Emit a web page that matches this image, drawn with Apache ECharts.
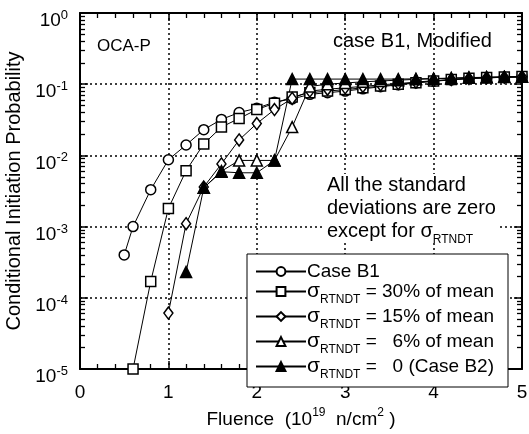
<!DOCTYPE html>
<html>
<head>
<meta charset="utf-8">
<script src="https://cdn.jsdelivr.net/npm/echarts@6/dist/echarts.min.js"></script>
<style>
html, body { margin: 0; padding: 0; background: #fff; }
#chart { width: 529px; height: 434px; }
</style>
</head>
<body>
<div id="chart"></div>
<script>
var FONT = '"Liberation Sans", Arial, sans-serif'

// fluence values (10^19 n/cm2) and probabilities
var xCaseB1 = [0.5, 0.6, 0.8, 1.0, 1.2, 1.4, 1.6, 1.8, 2.0, 2.2, 2.4, 2.6, 2.8, 3.0, 3.2, 3.4, 3.6, 3.8, 4.0, 4.2, 4.4, 4.6, 4.8, 5.0]
var caseB1 = [4.0e-4, 1.0e-3, 3.3e-3, 8.7e-3, 1.4e-2, 2.3e-2, 3.2e-2, 4.0e-2, 4.6e-2, 5.6e-2, 6.2e-2, 7.2e-2, 7.6e-2, 8.0e-2, 8.6e-2, 9.2e-2, 9.8e-2, 0.104, 0.110, 0.115, 0.120, 0.123, 0.125, 0.127]

var x30 = [0.6, 0.8, 1.0, 1.2, 1.4, 1.6, 1.8, 2.0, 2.2, 2.4, 2.6, 2.8, 3.0, 3.2, 3.4, 3.6, 3.8, 4.0, 4.2, 4.4, 4.6, 4.8, 5.0]
var sd30 = [1.0e-5, 1.7e-4, 1.8e-3, 6.1e-3, 1.45e-2, 2.5e-2, 3.3e-2, 4.4e-2, 5.4e-2, 6.6e-2, 7.6e-2, 8.0e-2, 8.4e-2, 8.9e-2, 9.4e-2, 0.100, 0.105, 0.111, 0.116, 0.121, 0.124, 0.126, 0.128]

var x15 = [1.0, 1.2, 1.4, 1.6, 1.8, 2.0, 2.2, 2.4, 2.6, 2.8, 3.0, 3.2, 3.4, 3.6, 3.8, 4.0, 4.2, 4.4, 4.6, 4.8, 5.0]
var sd15 = [6.1e-5, 1.1e-3, 3.6e-3, 7.6e-3, 1.65e-2, 2.8e-2, 4.4e-2, 6.3e-2, 8.0e-2, 8.5e-2, 8.9e-2, 9.3e-2, 9.8e-2, 0.102, 0.107, 0.112, 0.116, 0.120, 0.123, 0.125, 0.127]

var x6 = [1.4, 1.6, 1.8, 2.0, 2.2, 2.4, 2.6, 2.8, 3.0, 3.2, 3.4, 3.6, 3.8, 4.0, 4.2, 4.4, 4.6, 4.8, 5.0]
var sd6 = [3.5e-3, 6.0e-3, 8.5e-3, 8.5e-3, 8.5e-3, 2.5e-2, 9.3e-2, 0.100, 0.104, 0.108, 0.111, 0.114, 0.117, 0.119, 0.121, 0.123, 0.125, 0.126, 0.127]

var x0 = [1.2, 1.4, 1.6, 1.8, 2.0, 2.2, 2.4, 2.6, 2.8, 3.0, 3.2, 3.4, 3.6, 3.8, 4.0, 4.2, 4.4, 4.6, 4.8, 5.0]
var sd0 = [2.3e-4, 3.5e-3, 5.9e-3, 5.7e-3, 5.7e-3, 8.5e-3, 0.118, 0.118, 0.118, 0.118, 0.118, 0.118, 0.118, 0.119, 0.120, 0.122, 0.124, 0.125, 0.127, 0.128]

var seriesNames = ['Case B1', '30% of mean', '15% of mean', '  6% of mean', '  0 (Case B2)']
var xTicks = [0, 1, 2, 3, 4, 5]
var yDecades = [1e-5, 1e-4, 1e-3, 1e-2, 1e-1, 1]

function pairs(xs, ys) {
    return xs.map(function (x, i) { return [x, ys[i]] })
}

// minor ticks of the log axis: 2..9 x 10^k
var yMinor = []
for (var k = 0; k < yDecades.length - 1; k++) {
    for (var m = 2; m <= 9; m++) yMinor.push(m * yDecades[k])
}

var chart = echarts.init(document.getElementById('chart'))

var labelRich = {
    b: { fontFamily: FONT, fontSize: 19, color: '#000', lineHeight: 20, padding: [16, 0, 0, 0] },
    s: { fontFamily: FONT, fontSize: 13, color: '#000', verticalAlign: 'top', lineHeight: 14, padding: [6, 0, 0, 0] }
}
var legendRich = {
    c: { fontFamily: FONT, fontSize: 19, color: '#000', lineHeight: 11 },
    t: { fontFamily: FONT, fontSize: 19, color: '#000', lineHeight: 19 },
    g: { fontFamily: FONT, fontSize: 21, color: '#000', lineHeight: 19 },
    sub: { fontFamily: FONT, fontSize: 12, color: '#000', verticalAlign: 'bottom', lineHeight: 12, padding: [0, 0, -5, 0] }
}

function lineSeries(name, data, symbol, fill, size) {
    return {
        name: name,
        type: 'line',
        data: data,
        symbol: symbol,
        symbolSize: size,
        showAllSymbol: true,
        animation: false,
        lineStyle: { color: '#000', width: 1 },
        itemStyle: { color: fill, borderColor: '#000', borderWidth: 1.5 }
    }
}

var majorY = function (pos, labels) {
    return {
        type: 'log', logBase: 10, min: yDecades[0], max: yDecades[yDecades.length - 1], position: pos,
        axisLine: { show: true, onZero: false, lineStyle: { color: '#000', width: 2 } },
        axisTick: { show: true, inside: true, length: 8, lineStyle: { color: '#000', width: 1.5 } },
        axisLabel: labels ? {
            margin: 12,
            formatter: function (v) {
                return '{b|10}{s|' + Math.round(Math.log10(v)) + '}'
            },
            rich: labelRich
        } : { show: false },
        splitLine: labels ? { show: true, lineStyle: { color: '#000', width: 1.5, type: [2, 3] } } : { show: false }
    }
}
var minorY = function (pos) {
    return {
        type: 'log', logBase: 10, min: yDecades[0], max: yDecades[yDecades.length - 1], position: pos,
        axisLine: { show: false, onZero: false },
        axisTick: { show: true, inside: true, length: 5, customValues: yMinor, lineStyle: { color: '#000', width: 1.3 } },
        axisLabel: { show: false },
        splitLine: { show: false }
    }
}
var xAx = function (pos, labels) {
    return {
        type: 'value', min: xTicks[0], max: xTicks[xTicks.length - 1], interval: 1, position: pos,
        axisLine: { show: true, onZero: false, lineStyle: { color: '#000', width: 2 } },
        axisTick: { show: true, inside: true, length: 8, lineStyle: { color: '#000', width: 1.5 } },
        minorTick: { show: true, splitNumber: 5, length: 5, lineStyle: { color: '#000', width: 1.3 } },
        axisLabel: labels ? { margin: 14, fontSize: 19, fontFamily: FONT, color: '#000' } : { show: false },
        splitLine: labels ? { show: true, lineStyle: { color: '#000', width: 1.5, type: [2, 3] } } : { show: false }
    }
}

var yMain = majorY('left', true)
yMain.name = 'Conditional Initiation Probability'
yMain.nameLocation = 'middle'
yMain.nameGap = 54
yMain.nameTextStyle = { fontFamily: FONT, fontSize: 20, color: '#000' }

var xMain = xAx('bottom', true)
xMain.name = 'Fluence  (10{sup|19}  n/cm{sup|2} )'
xMain.nameLocation = 'middle'
xMain.nameGap = 38
xMain.nameTextStyle = {
    fontFamily: FONT, fontSize: 19, color: '#000',
    rich: { sup: { fontFamily: FONT, fontSize: 12, color: '#000', verticalAlign: 'top', lineHeight: 26 } }
}

option = {
    backgroundColor: '#fff',
    animation: false,
    grid: { left: 80, top: 13, right: 7, bottom: 65, outerBoundsMode: 'none' },
    xAxis: [xMain, xAx('top', false)],
    yAxis: [yMain, minorY('left'), majorY('right', false), minorY('right')],
    legend: {
        orient: 'vertical',
        left: 247, top: 254,
        width: 261,
        padding: [8, 14, 6, 8],
        itemGap: 0,
        itemWidth: 50, itemHeight: 11,
        backgroundColor: '#fff',
        borderColor: '#000', borderWidth: 1,
        selectedMode: false,
        data: seriesNames,
        formatter: function (name) {
            if (name === 'Case B1') return '{c|Case B1}'
            return '{g|σ}{sub|RTNDT}{t| = ' + name + '}'
        },
        textStyle: { rich: legendRich, padding: [0, 0, 0, -4] }
    },
    graphic: [
        { type: 'text', left: 97, top: 38, style: { text: 'OCA-P', font: '17px ' + FONT, fill: '#000' } },
        { type: 'text', left: 333, top: 31, style: { text: 'case B1, Modified', font: '20px ' + FONT, fill: '#000' } },
        {
            type: 'text', left: 325, top: 174, z: 10,
            style: {
                text: '{a|All the standard}\n{a|deviations are zero}\n{a|except for σ}{sub|RTNDT}',
                fill: '#000',
                backgroundColor: '#fff',
                padding: [0, 2, 0, 2],
                rich: {
                    a: { fontFamily: FONT, fontSize: 20, lineHeight: 23, fill: '#000' },
                    sub: { fontFamily: FONT, fontSize: 12, lineHeight: 23, verticalAlign: 'bottom', padding: [0, 0, -3, 0], fill: '#000' }
                }
            }
        }
    ],
    series: [
        lineSeries(seriesNames[0], pairs(xCaseB1, caseB1), 'circle', '#fff', 10),
        lineSeries(seriesNames[1], pairs(x30, sd30), 'rect', '#fff', 10),
        lineSeries(seriesNames[2], pairs(x15, sd15), 'diamond', '#fff', [9, 12]),
        lineSeries(seriesNames[3], pairs(x6, sd6), 'triangle', '#fff', 11),
        lineSeries(seriesNames[4], pairs(x0, sd0), 'triangle', '#000', 11)
    ]
}

chart.setOption(option)
</script>
</body>
</html>
